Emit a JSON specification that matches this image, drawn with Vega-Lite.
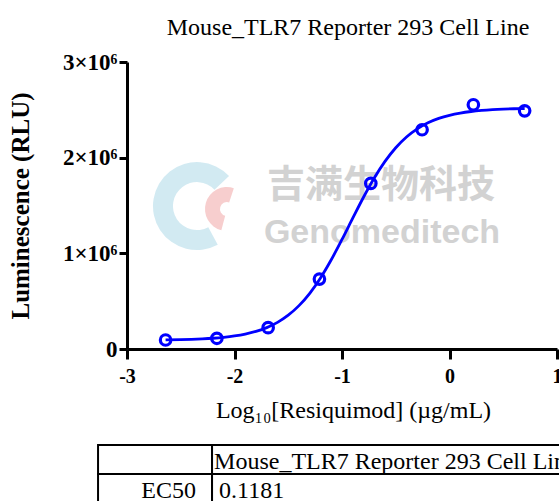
{
  "$schema": "https://vega.github.io/schema/vega-lite/v6.json",
  "background": "white",
  "padding": {"left": 8, "top": 16, "right": 0, "bottom": 0},
  "spacing": 22,
  "datasets": {
    "points": [
      {"logConc": -2.641, "rlu": 94000},
      {"logConc": -2.164, "rlu": 112000},
      {"logConc": -1.687, "rlu": 223000},
      {"logConc": -1.210, "rlu": 731000},
      {"logConc": -0.732, "rlu": 1731000},
      {"logConc": -0.255, "rlu": 2292000},
      {"logConc": 0.222, "rlu": 2553000},
      {"logConc": 0.699, "rlu": 2490000}
    ],
    "curve": [
      {"logConc": -2.641, "rlu": 94400},
      {"logConc": -2.5, "rlu": 97400},
      {"logConc": -2.4, "rlu": 100700},
      {"logConc": -2.3, "rlu": 105400},
      {"logConc": -2.2, "rlu": 112200},
      {"logConc": -2.1, "rlu": 122000},
      {"logConc": -2.0, "rlu": 136000},
      {"logConc": -1.9, "rlu": 155900},
      {"logConc": -1.8, "rlu": 184100},
      {"logConc": -1.7, "rlu": 223700},
      {"logConc": -1.6, "rlu": 278600},
      {"logConc": -1.5, "rlu": 353500},
      {"logConc": -1.4, "rlu": 453300},
      {"logConc": -1.3, "rlu": 582300},
      {"logConc": -1.2, "rlu": 742700},
      {"logConc": -1.1, "rlu": 932500},
      {"logConc": -1.0, "rlu": 1145100},
      {"logConc": -0.9, "rlu": 1367700},
      {"logConc": -0.8, "rlu": 1586400},
      {"logConc": -0.7, "rlu": 1787400},
      {"logConc": -0.6, "rlu": 1961100},
      {"logConc": -0.5, "rlu": 2104000},
      {"logConc": -0.4, "rlu": 2216300},
      {"logConc": -0.3, "rlu": 2301300},
      {"logConc": -0.2, "rlu": 2364500},
      {"logConc": -0.1, "rlu": 2410200},
      {"logConc": 0.0, "rlu": 2443000},
      {"logConc": 0.1, "rlu": 2466300},
      {"logConc": 0.2, "rlu": 2482600},
      {"logConc": 0.3, "rlu": 2494000},
      {"logConc": 0.4, "rlu": 2501900},
      {"logConc": 0.5, "rlu": 2507500},
      {"logConc": 0.6, "rlu": 2511300},
      {"logConc": 0.699, "rlu": 2514000}
    ],
    "table": [
      {"r": 1, "label": "", "value": "Mouse_TLR7 Reporter 293 Cell Line"},
      {"r": 2, "label": "EC50", "value": "0.1181"}
    ],
    "mark1": [{"text": "吉满生物科技"}],
    "mark2": [{"text": "Genomeditech"}]
  },
  "vconcat": [
    {
      "width": 430,
      "height": 287,
      "title": {"text": "Mouse_TLR7 Reporter 293 Cell Line", "font": "Liberation Serif", "fontSize": 24, "fontWeight": "normal", "color": "black", "anchor": "middle", "offset": 11, "dx": 6},
      "layer": [
        {
          "data": {"name": "mark1"},
          "mark": {"type": "arc", "radius": 44, "radius2": 24, "theta": 2.65, "theta2": 7.1, "color": "#cde8f1", "opacity": 0.9},
          "encoding": {
            "x": {"datum": -2.349, "type": "quantitative", "scale": {"domain": [-3, 1], "nice": false, "zero": false}},
            "y": {"datum": 1494000, "type": "quantitative", "scale": {"domain": [0, 3000000], "nice": false}}
          }
        },
        {
          "data": {"name": "mark1"},
          "mark": {"type": "arc", "radius": 22, "radius2": 7, "theta": 3.4, "theta2": 6.6, "color": "#f6c9c9", "opacity": 0.9},
          "encoding": {
            "x": {"datum": -2.07, "type": "quantitative"},
            "y": {"datum": 1463000, "type": "quantitative"}
          }
        },
        {
          "data": {"name": "mark1"},
          "mark": {"type": "text", "font": "Noto Sans CJK SC", "fontWeight": "bold", "fontSize": 38, "color": "#d2d2d2", "align": "center", "baseline": "middle"},
          "encoding": {
            "x": {"datum": -0.637, "type": "quantitative"},
            "y": {"datum": 1708000, "type": "quantitative"},
            "text": {"field": "text"}
          }
        },
        {
          "data": {"name": "mark2"},
          "mark": {"type": "text", "font": "Liberation Sans", "fontWeight": "bold", "fontSize": 34, "color": "#d2d2d2", "align": "center", "baseline": "middle"},
          "encoding": {
            "x": {"datum": -0.628, "type": "quantitative"},
            "y": {"datum": 1217000, "type": "quantitative"},
            "text": {"field": "text"}
          }
        },
        {
          "data": {"name": "curve"},
          "mark": {"type": "line", "color": "#0000ff", "strokeWidth": 2.8, "interpolate": "monotone"},
          "encoding": {
            "x": {"field": "logConc", "type": "quantitative"},
            "y": {"field": "rlu", "type": "quantitative"}
          }
        },
        {
          "data": {"name": "points"},
          "mark": {"type": "point", "shape": "circle", "filled": false, "stroke": "#0000ff", "strokeWidth": 3.2, "size": 110, "opacity": 1},
          "encoding": {
            "x": {
              "field": "logConc", "type": "quantitative",
              "axis": {
                "values": [-3, -2, -1, 0, 1],
                "labelExpr": "'' + datum.value",
                "labelFontSize": 20, "labelFontWeight": "bold", "labelFlush": false, "labelOverlap": false,
                "tickSize": 10, "labelPadding": 7,
                "title": "Log₁₀[Resiquimod] (µg/mL)", "titleFontSize": 24, "titleFontWeight": "normal", "titlePadding": 12, "titleX": 226
              }
            },
            "y": {
              "field": "rlu", "type": "quantitative",
              "axis": {
                "values": [0, 1000000, 2000000, 3000000],
                "labelExpr": "datum.value == 0 ? '0' : (datum.value / 1000000) + '×10⁶'",
                "labelFontSize": 23, "labelFontWeight": "bold", "labelOverlap": false, "labelFlush": false,
                "tickSize": 8, "labelPadding": 2,
                "title": "Luminescence (RLU)", "titleFontSize": 25, "titleFontWeight": "bold", "titlePadding": 29
              }
            }
          }
        }
      ]
    },
    {
      "width": 456,
      "height": 58,
      "data": {"name": "table"},
      "layer": [
        {
          "mark": {"type": "rect", "fill": "white", "stroke": "black", "strokeWidth": 2},
          "encoding": {
            "x": {"datum": 0, "type": "quantitative", "scale": {"domain": [0.254, 4.254], "nice": false, "zero": false}, "axis": null},
            "x2": {"datum": 1},
            "y": {"field": "r", "type": "ordinal", "axis": null, "scale": {"paddingInner": 0, "paddingOuter": 0}}
          }
        },
        {
          "mark": {"type": "rect", "fill": "white", "stroke": "black", "strokeWidth": 2},
          "encoding": {
            "x": {"datum": 1, "type": "quantitative", "axis": null},
            "x2": {"datum": 5},
            "y": {"field": "r", "type": "ordinal", "axis": null}
          }
        },
        {
          "mark": {"type": "text", "align": "right", "baseline": "middle", "dx": -16, "dy": 2, "font": "Liberation Serif", "fontSize": 24, "color": "black"},
          "encoding": {
            "x": {"datum": 1, "type": "quantitative", "axis": null},
            "y": {"field": "r", "type": "ordinal", "axis": null},
            "text": {"field": "label"}
          }
        },
        {
          "transform": [{"filter": "datum.r == 1"}],
          "mark": {"type": "text", "align": "left", "baseline": "middle", "dx": 2, "dy": 2, "font": "Liberation Serif", "fontSize": 24, "color": "black"},
          "encoding": {
            "x": {"datum": 1, "type": "quantitative", "axis": null},
            "y": {"field": "r", "type": "ordinal", "axis": null},
            "text": {"field": "value"}
          }
        },
        {
          "transform": [{"filter": "datum.r == 2"}],
          "mark": {"type": "text", "align": "left", "baseline": "middle", "dx": 7, "dy": 2, "font": "Liberation Serif", "fontSize": 24, "color": "black"},
          "encoding": {
            "x": {"datum": 1, "type": "quantitative", "axis": null},
            "y": {"field": "r", "type": "ordinal", "axis": null},
            "text": {"field": "value"}
          }
        }
      ]
    }
  ],
  "config": {
    "view": {"stroke": null},
    "font": "Liberation Serif",
    "axis": {
      "grid": false,
      "domainColor": "black", "domainWidth": 3,
      "tickColor": "black", "tickWidth": 3,
      "labelColor": "black", "titleColor": "black",
      "labelFont": "Liberation Serif", "titleFont": "Liberation Serif"
    }
  }
}
